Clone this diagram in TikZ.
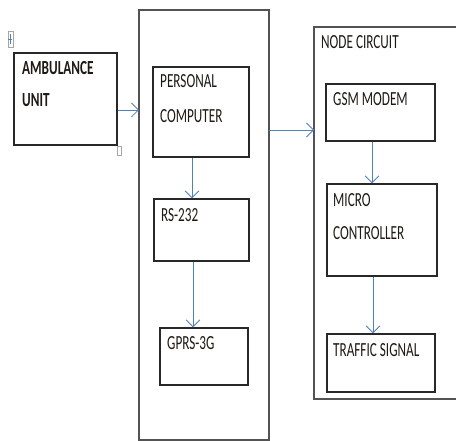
\documentclass[tikz,border=0pt]{standalone}
\usepackage{fontspec}
\setmainfont[FakeStretch=0.66]{Carlito}
\usetikzlibrary{arrows.meta}
\definecolor{wordblue}{RGB}{79,129,189}
\definecolor{frame}{RGB}{40,40,40}
\definecolor{txt}{RGB}{30,25,20}
\tikzset{
  blk/.style={draw=frame, line width=1.3pt, inner sep=0pt},
  outer/.style={draw=frame!80, line width=1.2pt, inner sep=0pt},
  lbl/.style={anchor=base west, inner sep=0pt, text=txt, font=\fontsize{20}{20}\selectfont},
  flow/.style={draw=wordblue, line width=0.8pt, -{Straight Barb[length=7pt,width=14pt,line width=0.8pt]}},
  handle/.style={draw=black!35, fill=white, line width=0.8pt}
}
\begin{document}
\begin{tikzpicture}[x=1pt,y=-1pt]
\useasboundingbox (0,0) rectangle (456,441);
\fill[white] (0,0) rectangle (456,441);

% outer frames
\draw[outer] (139,10) rectangle (269,440);
\draw[outer] (314,27) rectangle (470,399);
\coordinate (midL) at (139,110);
\coordinate (midR) at (269,130);
\coordinate (ncL) at (314,130);

% ambulance unit
\node[blk, minimum width=103pt, minimum height=92pt] (amb) at (65.5,99) {};
\node[lbl, font=\fontsize{20}{20}\bfseries\selectfont] (t1) at (22,75) {AMBULANCE};
\node[lbl, font=\fontsize{20}{20}\bfseries\selectfont] (t2) at (22,107) {UNIT};
% selection handles
\draw[handle] (8,31) rectangle (13,47);
\draw[wordblue, line width=0.8pt] (10,34) -- (10,44) (8,39) -- (12,39);
\draw[handle] (117,146) rectangle (121,155);

% personal computer column
\node[blk, minimum width=96pt, minimum height=90pt] (pc) at (201,112) {};
\node[lbl] (t3) at (160,88) {PERSONAL};
\node[lbl] (t4) at (160,123) {COMPUTER};
\node[blk, minimum width=95pt, minimum height=62pt] (rs) at (201.5,230) {};
\node[lbl] (t5) at (161,222) {RS-232};
\node[blk, minimum width=88pt, minimum height=57pt] (gprs) at (204,356.5) {};
\node[lbl] (t6) at (167,350) {GPRS-3G};

% node circuit column
\node[lbl] (t7) at (321,49) {NODE CIRCUIT};
\node[blk, minimum width=109pt, minimum height=57pt] (gsm) at (380.5,112.5) {};
\node[lbl] (t8) at (333,106) {GSM MODEM};
\node[blk, minimum width=110pt, minimum height=92pt] (mc) at (382,230) {};
\node[lbl] (t9) at (333,207) {MICRO};
\node[lbl] (t10) at (333,240) {CONTROLLER};
\node[blk, minimum width=108pt, minimum height=58pt] (ts) at (381,363) {};
\node[lbl] (t11) at (333,356) {TRAFFIC SIGNAL};

% connectors
\draw[flow] (amb.east |- midL) -- (midL);
\draw[flow] (midR) -- (ncL);
\draw[flow] (pc.south -| 192,0) -- (rs.north -| 192,0);
\draw[flow] (rs.south -| 193,0) -- (gprs.north -| 193,0);
\draw[flow] (gsm.south -| 372,0) -- (mc.north -| 372,0);
\draw[flow] (mc.south -| 373,0) -- (ts.north -| 373,0);
\end{tikzpicture}
\end{document}
